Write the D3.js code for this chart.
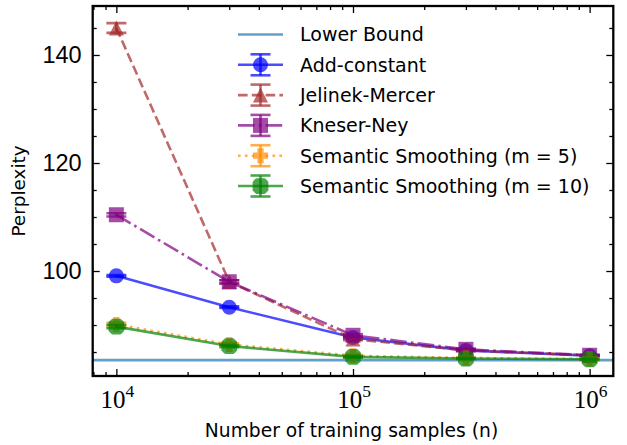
<!DOCTYPE html>
<html><head><meta charset="utf-8">
<script src="https://cdn.jsdelivr.net/npm/d3@7"></script>
<style>body{margin:0;background:#fff}svg{display:block}</style>
</head><body><svg id="c" width="627" height="445"></svg>
<script>
// ---- data ----
const samples = [1e4, 3e4, 1e5, 3e5, 1e6];
const lowerBound = 83.5;
const addConstant = [99.1, 93.3, 87.7, 85.3, 84.3];
const addConstantErr = [0.15, 0.15, 0.15, 0.1, 0.1];
const jelinekMercer = [145.0, 98.0, 87.4, 85.3, 84.4];
const jelinekMercerErr = [0.9, 0.3, 0.2, 0.15, 0.1];
const kneserNey = [110.4, 98.0, 88.1, 85.5, 84.4];
const kneserNeyErr = [0.3, 0.3, 0.2, 0.15, 0.1];
const semantic5 = [90.1, 86.4, 84.3, 83.9, 83.7];
const semantic5Err = [0.3, 0.2, 0.15, 0.1, 0.1];
const semantic10 = [89.7, 86.1, 84.1, 83.8, 83.65];
const semantic10Err = [0.3, 0.2, 0.15, 0.1, 0.1];
const seriesLabels = ["Lower Bound", "Add-constant", "Jelinek-Mercer", "Kneser-Ney",
  "Semantic Smoothing (m = 5)", "Semantic Smoothing (m = 10)"];
const xTickValues = [1e4, 1e5, 1e6];
const xTickExponents = ["4", "5", "6"];
const yTickValues = [100, 120, 140];
const xLabel = "Number of training samples (n)";
const yLabel = "Perplexity";

// ---- layout ----
const L = 92.7, R = 613.3, T = 6, B = 376;
const svg = d3.select("#c");
const x = d3.scaleLog().domain([Math.pow(10, 3.9), Math.pow(10, 6.1)]).range([L, R]);
const y = d3.scaleLinear().domain([80.56, 149.07]).range([B, T]);
const LW = 2.6, ALPHA = 0.7, CAP = 10;
const sansFont = "'Liberation Sans', Arial, sans-serif";
const labelFont = "'DejaVu Sans', sans-serif";

const series = [
  {v: addConstant, e: addConstantErr, color: "blue", dash: null, marker: "circle"},
  {v: jelinekMercer, e: jelinekMercerErr, color: "brown", dash: "9.6,4.2", marker: "triangle"},
  {v: kneserNey, e: kneserNeyErr, color: "purple", dash: "16.6,4.2,2.6,4.2", marker: "square"},
  {v: semantic5, e: semantic5Err, color: "darkorange", dash: "2.6,4.3", marker: "plus"},
  {v: semantic10, e: semantic10Err, color: "green", dash: null, marker: "plusWide"}
];

function markerPath(type) {
  const s = 7.5;
  if (type === "circle") return d3.symbol(d3.symbolCircle, Math.PI * s * s)();
  if (type === "square") return `M${-s},${-s}h${2*s}v${2*s}h${-2*s}Z`;
  if (type === "triangle") return `M0,${-s}L${s},${s}L${-s},${s}Z`;
  if (type === "plus") {
    const a = s * 0.42;
    return `M${-a},${-s}H${a}V${-a}H${s}V${a}H${a}V${s}H${-a}V${a}H${-s}V${-a}H${-a}Z`;
  }
  // rounded blob-like cross for the m = 10 marker
  const S = s * 1.05, a = s * 0.55, c = s * 0.82;
  return `M${-a},${-S}H${a}L${c},${-c}L${S},${-a}V${a}L${c},${c}L${a},${S}H${-a}L${-c},${c}L${-S},${a}V${-a}L${-c},${-c}Z`;
}

const clipId = "plotclip";
svg.append("clipPath").attr("id", clipId).append("rect")
  .attr("x", L).attr("y", T).attr("width", R - L).attr("height", B - T);
const plot = svg.append("g").attr("clip-path", `url(#${clipId})`);

// lower bound
plot.append("line").attr("x1", L).attr("x2", R)
  .attr("y1", y(lowerBound)).attr("y2", y(lowerBound))
  .attr("stroke", "#1f77b4").attr("stroke-opacity", ALPHA).attr("stroke-width", LW);

const line = d3.line().x((d, i) => x(samples[i])).y(d => y(d));

function drawErr(g, cx, cy1, cy2, color) {
  g.append("line").attr("x1", cx).attr("x2", cx).attr("y1", cy1).attr("y2", cy2)
    .attr("stroke", color).attr("stroke-opacity", ALPHA).attr("stroke-width", LW);
  [cy1, cy2].forEach(cy => g.append("line").attr("x1", cx - CAP).attr("x2", cx + CAP)
    .attr("y1", cy).attr("y2", cy)
    .attr("stroke", color).attr("stroke-opacity", ALPHA).attr("stroke-width", LW));
}

series.forEach(s => {
  const g = plot.append("g");
  g.append("path").datum(s.v).attr("d", line).attr("fill", "none")
    .attr("stroke", s.color).attr("stroke-opacity", ALPHA).attr("stroke-width", LW)
    .attr("stroke-dasharray", s.dash);
  s.v.forEach((v, i) => {
    g.append("path").attr("d", markerPath(s.marker))
      .attr("transform", `translate(${x(samples[i])},${y(v)})`)
      .attr("fill", s.color).attr("fill-opacity", ALPHA);
  });
  s.v.forEach((v, i) => drawErr(g, x(samples[i]), y(v + s.e[i]), y(v - s.e[i]), s.color));
});

// ---- axes ----
const minorX = [];
[1e3, 1e4, 1e5, 1e6].forEach(d => d3.range(2, 10).forEach(k => {
  const v = k * d; if (v > x.domain()[0] && v < x.domain()[1]) minorX.push(v);
}));
const minorY = d3.range(85, 150, 5).filter(v => !yTickValues.includes(v));

function tickStyle(g) { g.select(".domain").remove(); g.selectAll("line").attr("stroke", "#000").attr("stroke-width", 1.3); }

svg.append("g").attr("transform", `translate(0,${B})`)
  .call(d3.axisBottom(x).tickValues(xTickValues).tickSize(-7).tickFormat("")).call(tickStyle);
svg.append("g").attr("transform", `translate(0,${B})`)
  .call(d3.axisBottom(x).tickValues(minorX).tickSize(-4).tickFormat("")).call(tickStyle);
svg.append("g").attr("transform", `translate(0,${T})`)
  .call(d3.axisTop(x).tickValues(xTickValues).tickSize(-7).tickFormat("")).call(tickStyle);
svg.append("g").attr("transform", `translate(0,${T})`)
  .call(d3.axisTop(x).tickValues(minorX).tickSize(-4).tickFormat("")).call(tickStyle);
svg.append("g").attr("transform", `translate(${L},0)`)
  .call(d3.axisLeft(y).tickValues(yTickValues).tickSize(-7).tickFormat("")).call(tickStyle);
svg.append("g").attr("transform", `translate(${L},0)`)
  .call(d3.axisLeft(y).tickValues(minorY).tickSize(-4).tickFormat("")).call(tickStyle);
svg.append("g").attr("transform", `translate(${R},0)`)
  .call(d3.axisRight(y).tickValues(yTickValues).tickSize(-7).tickFormat("")).call(tickStyle);
svg.append("g").attr("transform", `translate(${R},0)`)
  .call(d3.axisRight(y).tickValues(minorY).tickSize(-4).tickFormat("")).call(tickStyle);

// frame
svg.append("rect").attr("x", L).attr("y", T).attr("width", R - L).attr("height", B - T)
  .attr("fill", "none").attr("stroke", "#000").attr("stroke-width", 2.3);

// y tick labels
svg.append("g").selectAll("text").data(yTickValues).join("text")
  .attr("x", L - 11).attr("y", d => y(d)).attr("dy", "0.36em")
  .attr("text-anchor", "end").attr("font-family", sansFont).attr("font-size", 23.5)
  .text(d => d);

// x tick labels
const xl = svg.append("g").selectAll("text").data(xTickValues).join("text")
  .attr("x", d => x(d) + 1).attr("y", 408).attr("text-anchor", "middle")
  .attr("font-family", "'Liberation Serif', 'DejaVu Serif', serif").attr("font-size", 25);
xl.append("tspan").text("10");
xl.append("tspan").attr("dy", -11).attr("font-size", 17.5).text((d, i) => xTickExponents[i]);

// axis labels
svg.append("text").attr("x", (L + R) / 2 - 1.5).attr("y", 437).attr("text-anchor", "middle")
  .attr("font-family", labelFont).attr("font-size", 18.7).text(xLabel);
svg.append("text").attr("transform", `translate(25,${(T + B) / 2}) rotate(-90)`)
  .attr("text-anchor", "middle").attr("font-family", labelFont).attr("font-size", 18.4).text(yLabel);

// legend
const lg = svg.append("g");
const rowY0 = 34.5, rowStep = 30.3, hx1 = 238, hx2 = 283, hm = 260.5, tx = 300;
const handles = [{color: "#1f77b4", dash: null, marker: null}].concat(series);
handles.forEach((h, i) => {
  const cy = rowY0 + i * rowStep;
  const g = lg.append("g");
  g.append("line").attr("x1", hx1).attr("x2", hx2).attr("y1", cy).attr("y2", cy)
    .attr("stroke", h.color).attr("stroke-opacity", ALPHA).attr("stroke-width", LW)
    .attr("stroke-dasharray", h.dash);
  if (h.marker) {
    g.append("path").attr("d", markerPath(h.marker)).attr("transform", `translate(${hm},${cy})`)
      .attr("fill", h.color).attr("fill-opacity", ALPHA);
    drawErr(g, hm, cy - 10.5, cy + 10.5, h.color);
  }
  g.append("text").attr("x", tx).attr("y", cy).attr("dy", "0.36em")
    .attr("font-family", labelFont).attr("font-size", 19).text(seriesLabels[i]);
});
</script></body></html>
